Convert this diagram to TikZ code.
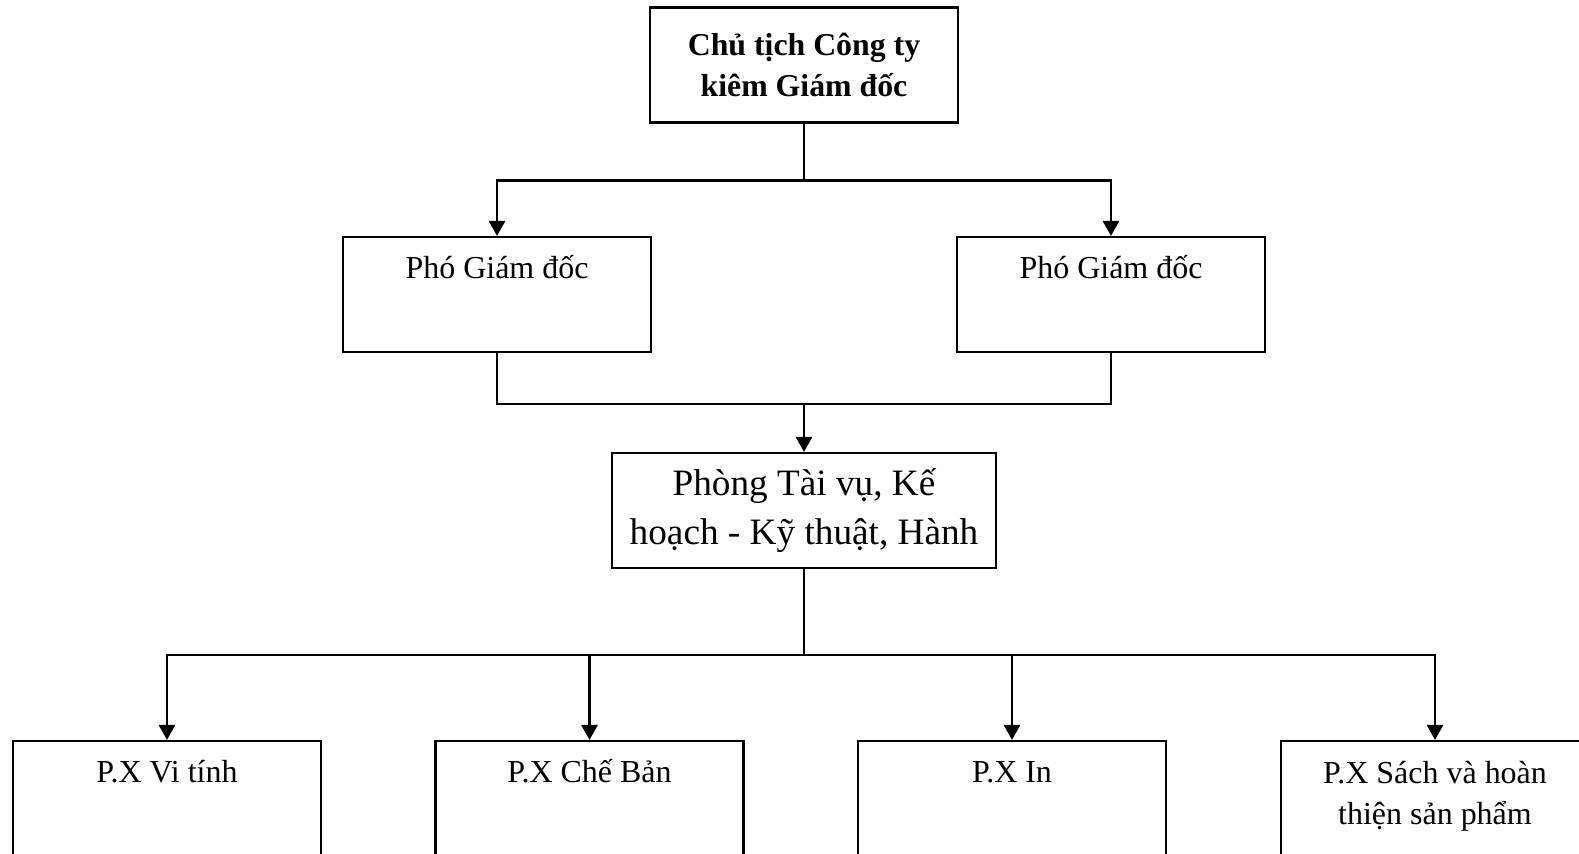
\documentclass[tikz,border=0pt]{standalone}
\usepackage{fontspec}
\setmainfont{Liberation Serif}
\usetikzlibrary{arrows.meta, positioning}

\begin{document}
\begin{tikzpicture}[x=0.02cm, y=-0.02cm,
    unit/.style={draw, line width=1.2pt, minimum width=6.16cm, minimum height=2.3cm},
    head/.style={unit, font=\fontsize{18.1}{23.8}\selectfont\bfseries, align=center},
    office/.style={unit, minimum width=7.68cm, font=\fontsize{21.2}{27.4}\selectfont, align=center},
    unitname/.style={anchor=base, inner sep=0pt, font=\fontsize{18.2}{23.8}\selectfont, align=center},
    link/.style={line width=1.6pt},
    arrow/.style={link, -{Triangle[length=0.3cm, width=0.32cm]}}
]
\useasboundingbox (0,0) rectangle (1579,854);
\clip (0,0) rectangle (1579,854);

% Boxes
\node[head] (chair) at (804,65) {Chủ tịch Công ty\\kiêm Giám đốc};

\node[unit] (vp1) at (497,294.5) {};
\node[unit] (vp2) at (1111,294.5) {};

\node[office, text depth=0.16cm] (office) at (804,510.5) {Phòng Tài vụ, Kế\\hoạch - Kỹ thuật, Hành};

\node[unit] (px1) at (167,798.5) {};
\node[unit] (px2) at (589.5,798.5) {};
\node[unit] (px3) at (1012,798.5) {};
\node[unit] (px4) at (1435,798.5) {};

% Names
\node[unitname] (vp1name) at ([yshift=-0.86cm]vp1.north) {Phó Giám đốc};
\node[unitname] (vp2name) at ([yshift=-0.86cm]vp2.north) {Phó Giám đốc};
\node[unitname] (px1name) at ([yshift=-0.86cm]px1.north) {P.X Vi tính};
\node[unitname] (px2name) at ([yshift=-0.86cm]px2.north) {P.X Chế Bản};
\node[unitname] (px3name) at ([yshift=-0.86cm]px3.north) {P.X In};
\node[unitname] (px4name) at ([yshift=-1.70cm]px4.north) {P.X Sách và hoàn\\thiện sản phẩm};

% Arrows
\draw[link] (chair.south) -- ++(0,57) coordinate (fork1);
\draw[arrow] (fork1) -| (vp1.north);
\draw[arrow] (fork1) -| (vp2.north);

\draw[link] (vp1.south) -- ++(0,51) coordinate (join) -- (join -| vp2.south) -- (vp2.south);
\draw[arrow] (join -| office.north) -- (office.north);

\draw[link] (office.south) -- ++(0,86) coordinate (fork2);
\foreach \px in {px1,px2,px3,px4}
  \draw[arrow] (fork2) -| (\px.north);

\end{tikzpicture}
\end{document}
